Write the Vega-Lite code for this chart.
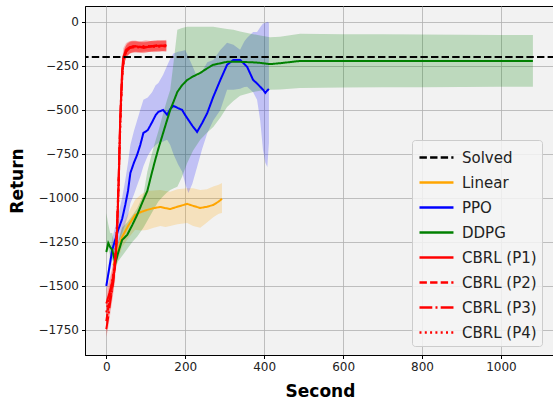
{
  "$schema": "https://vega.github.io/schema/vega-lite/v6.json",
  "width": 470,
  "height": 349,
  "autosize": {"type": "none"},
  "padding": {"left": 85, "top": 6, "right": 0, "bottom": 47},
  "background": "white",
  "config": {
    "font": "DejaVu Sans",
    "view": {"fill": "#f2f2f2", "stroke": "black", "strokeWidth": 1},
    "axis": {
      "labelFont": "DejaVu Sans", "labelFontSize": 12, "labelColor": "#222222",
      "titleFont": "DejaVu Sans", "titleFontSize": 17, "titleFontWeight": "bold", "titleColor": "black",
      "domainColor": "black", "tickColor": "black", "tickSize": 3.5, "labelPadding": 3,
      "gridColor": "#b0b0b0", "gridWidth": 0.8, "gridOpacity": 1
    },
    "legend": {
      "labelFont": "DejaVu Sans", "labelFontSize": 15, "labelColor": "#222222",
      "symbolType": "M-0.91,0H2.18", "symbolSize": 484, "symbolStrokeWidth": 2.5,
      "symbolFillColor": "transparent",
      "fillColor": "rgba(245,245,245,0.85)", "strokeColor": "#cccccc", "cornerRadius": 3,
      "padding": 5, "rowPadding": 4, "labelOffset": 20
    }
  },
  "datasets": {
    "curves": [
      {"series": "Linear", "x": 18, "y": -1381, "lo": -1420, "hi": -1340},
      {"series": "Linear", "x": 30, "y": -1300, "lo": -1350, "hi": -1250},
      {"series": "Linear", "x": 40, "y": -1222, "lo": -1280, "hi": -1160},
      {"series": "Linear", "x": 55, "y": -1160, "lo": -1230, "hi": -1090},
      {"series": "Linear", "x": 73, "y": -1097, "lo": -1180, "hi": -1010},
      {"series": "Linear", "x": 88, "y": -1080, "lo": -1185, "hi": -980},
      {"series": "Linear", "x": 103, "y": -1068, "lo": -1182, "hi": -960},
      {"series": "Linear", "x": 120, "y": -1058, "lo": -1170, "hi": -958},
      {"series": "Linear", "x": 137, "y": -1051, "lo": -1160, "hi": -955},
      {"series": "Linear", "x": 150, "y": -1058, "lo": -1165, "hi": -960},
      {"series": "Linear", "x": 162, "y": -1063, "lo": -1160, "hi": -965},
      {"series": "Linear", "x": 180, "y": -1050, "lo": -1150, "hi": -950},
      {"series": "Linear", "x": 205, "y": -1034, "lo": -1142, "hi": -945},
      {"series": "Linear", "x": 220, "y": -1045, "lo": -1160, "hi": -945},
      {"series": "Linear", "x": 238, "y": -1057, "lo": -1170, "hi": -955},
      {"series": "Linear", "x": 255, "y": -1050, "lo": -1140, "hi": -950},
      {"series": "Linear", "x": 271, "y": -1040, "lo": -1110, "hi": -935},
      {"series": "Linear", "x": 285, "y": -1020, "lo": -1090, "hi": -925},
      {"series": "Linear", "x": 293, "y": -1005, "lo": -1085, "hi": -915},

      {"series": "PPO", "x": 0, "y": -1500, "lo": -1510, "hi": -1480},
      {"series": "PPO", "x": 8, "y": -1392, "lo": -1430, "hi": -1340},
      {"series": "PPO", "x": 15, "y": -1295, "lo": -1350, "hi": -1230},
      {"series": "PPO", "x": 30, "y": -1182, "lo": -1260, "hi": -1100},
      {"series": "PPO", "x": 40, "y": -1120, "lo": -1200, "hi": -1000},
      {"series": "PPO", "x": 48, "y": -1040, "lo": -1150, "hi": -900},
      {"series": "PPO", "x": 55, "y": -960, "lo": -1100, "hi": -800},
      {"series": "PPO", "x": 61, "y": -858, "lo": -1030, "hi": -700},
      {"series": "PPO", "x": 70, "y": -800, "lo": -980, "hi": -620},
      {"series": "PPO", "x": 78, "y": -756, "lo": -930, "hi": -560},
      {"series": "PPO", "x": 86, "y": -700, "lo": -880, "hi": -500},
      {"series": "PPO", "x": 94, "y": -631, "lo": -820, "hi": -443},
      {"series": "PPO", "x": 105, "y": -615, "lo": -760, "hi": -430},
      {"series": "PPO", "x": 116, "y": -570, "lo": -720, "hi": -400},
      {"series": "PPO", "x": 125, "y": -530, "lo": -700, "hi": -360},
      {"series": "PPO", "x": 132, "y": -511, "lo": -688, "hi": -347},
      {"series": "PPO", "x": 144, "y": -500, "lo": -680, "hi": -301},
      {"series": "PPO", "x": 154, "y": -528, "lo": -670, "hi": -250},
      {"series": "PPO", "x": 162, "y": -495, "lo": -700, "hi": -210},
      {"series": "PPO", "x": 170, "y": -477, "lo": -750, "hi": -180},
      {"series": "PPO", "x": 182, "y": -490, "lo": -810, "hi": -170},
      {"series": "PPO", "x": 192, "y": -500, "lo": -850, "hi": -165},
      {"series": "PPO", "x": 200, "y": -530, "lo": -920, "hi": -160},
      {"series": "PPO", "x": 208, "y": -557, "lo": -972, "hi": -200},
      {"series": "PPO", "x": 218, "y": -590, "lo": -920, "hi": -250},
      {"series": "PPO", "x": 230, "y": -625, "lo": -824, "hi": -312},
      {"series": "PPO", "x": 243, "y": -574, "lo": -720, "hi": -280},
      {"series": "PPO", "x": 256, "y": -517, "lo": -631, "hi": -230},
      {"series": "PPO", "x": 271, "y": -426, "lo": -560, "hi": -216},
      {"series": "PPO", "x": 289, "y": -330, "lo": -500, "hi": -160},
      {"series": "PPO", "x": 306, "y": -244, "lo": -386, "hi": -119},
      {"series": "PPO", "x": 322, "y": -216, "lo": -386, "hi": -130},
      {"series": "PPO", "x": 339, "y": -216, "lo": -380, "hi": -159},
      {"series": "PPO", "x": 350, "y": -240, "lo": -370, "hi": -110},
      {"series": "PPO", "x": 357, "y": -256, "lo": -369, "hi": -90},
      {"series": "PPO", "x": 372, "y": -330, "lo": -400, "hi": -57},
      {"series": "PPO", "x": 382, "y": -350, "lo": -443, "hi": -57},
      {"series": "PPO", "x": 390, "y": -369, "lo": -560, "hi": -30},
      {"series": "PPO", "x": 397, "y": -385, "lo": -727, "hi": -10},
      {"series": "PPO", "x": 403, "y": -403, "lo": -800, "hi": -6},
      {"series": "PPO", "x": 408, "y": -390, "lo": -824, "hi": 0},
      {"series": "PPO", "x": 412, "y": -381, "lo": -688, "hi": -5},

      {"series": "DDPG", "x": 0, "y": -1307, "lo": -1320, "hi": -1085},
      {"series": "DDPG", "x": 5, "y": -1256, "lo": -1290, "hi": -1150},
      {"series": "DDPG", "x": 10, "y": -1280, "lo": -1330, "hi": -1200},
      {"series": "DDPG", "x": 15, "y": -1295, "lo": -1350, "hi": -1199},
      {"series": "DDPG", "x": 23, "y": -1369, "lo": -1400, "hi": -1290},
      {"series": "DDPG", "x": 30, "y": -1312, "lo": -1360, "hi": -1250},
      {"series": "DDPG", "x": 40, "y": -1239, "lo": -1330, "hi": -1170},
      {"series": "DDPG", "x": 53, "y": -1210, "lo": -1290, "hi": -1140},
      {"series": "DDPG", "x": 66, "y": -1153, "lo": -1250, "hi": -1100},
      {"series": "DDPG", "x": 78, "y": -1097, "lo": -1220, "hi": -1060},
      {"series": "DDPG", "x": 94, "y": -1011, "lo": -1170, "hi": -980},
      {"series": "DDPG", "x": 104, "y": -960, "lo": -1130, "hi": -850},
      {"series": "DDPG", "x": 114, "y": -870, "lo": -1090, "hi": -760},
      {"series": "DDPG", "x": 124, "y": -784, "lo": -1050, "hi": -680},
      {"series": "DDPG", "x": 132, "y": -720, "lo": -1020, "hi": -620},
      {"series": "DDPG", "x": 144, "y": -631, "lo": -990, "hi": -520},
      {"series": "DDPG", "x": 153, "y": -565, "lo": -970, "hi": -450},
      {"series": "DDPG", "x": 162, "y": -500, "lo": -955, "hi": -386},
      {"series": "DDPG", "x": 171, "y": -450, "lo": -945, "hi": -220},
      {"series": "DDPG", "x": 180, "y": -398, "lo": -937, "hi": -45},
      {"series": "DDPG", "x": 192, "y": -360, "lo": -880, "hi": -35},
      {"series": "DDPG", "x": 205, "y": -330, "lo": -801, "hi": -28},
      {"series": "DDPG", "x": 220, "y": -310, "lo": -730, "hi": -28},
      {"series": "DDPG", "x": 238, "y": -290, "lo": -670, "hi": -28},
      {"series": "DDPG", "x": 255, "y": -265, "lo": -630, "hi": -28},
      {"series": "DDPG", "x": 271, "y": -244, "lo": -597, "hi": -28},
      {"series": "DDPG", "x": 290, "y": -235, "lo": -540, "hi": -35},
      {"series": "DDPG", "x": 306, "y": -227, "lo": -483, "hi": -40},
      {"series": "DDPG", "x": 322, "y": -227, "lo": -450, "hi": -45},
      {"series": "DDPG", "x": 339, "y": -227, "lo": -420, "hi": -55},
      {"series": "DDPG", "x": 372, "y": -230, "lo": -398, "hi": -70},
      {"series": "DDPG", "x": 390, "y": -233, "lo": -392, "hi": -78},
      {"series": "DDPG", "x": 415, "y": -240, "lo": -386, "hi": -88},
      {"series": "DDPG", "x": 440, "y": -235, "lo": -384, "hi": -85},
      {"series": "DDPG", "x": 491, "y": -222, "lo": -375, "hi": -68},
      {"series": "DDPG", "x": 600, "y": -222, "lo": -373, "hi": -70},
      {"series": "DDPG", "x": 700, "y": -222, "lo": -372, "hi": -71},
      {"series": "DDPG", "x": 800, "y": -222, "lo": -371, "hi": -72},
      {"series": "DDPG", "x": 900, "y": -222, "lo": -370, "hi": -73},
      {"series": "DDPG", "x": 1000, "y": -222, "lo": -369, "hi": -74},
      {"series": "DDPG", "x": 1081, "y": -222, "lo": -369, "hi": -74},

      {"series": "CBRL (P1)", "x": 0, "y": -1600, "lo": -1680, "hi": -1520},
      {"series": "CBRL (P1)", "x": 8, "y": -1540, "lo": -1620, "hi": -1460},
      {"series": "CBRL (P1)", "x": 15, "y": -1480, "lo": -1560, "hi": -1400},
      {"series": "CBRL (P1)", "x": 22, "y": -1400, "lo": -1480, "hi": -1320},
      {"series": "CBRL (P1)", "x": 27, "y": -1220, "lo": -1300, "hi": -1140},
      {"series": "CBRL (P1)", "x": 30, "y": -1010, "lo": -1090, "hi": -930},
      {"series": "CBRL (P1)", "x": 33, "y": -790, "lo": -870, "hi": -710},
      {"series": "CBRL (P1)", "x": 35, "y": -560, "lo": -640, "hi": -480},
      {"series": "CBRL (P1)", "x": 38, "y": -390, "lo": -460, "hi": -320},
      {"series": "CBRL (P1)", "x": 40, "y": -275, "lo": -330, "hi": -220},
      {"series": "CBRL (P1)", "x": 43, "y": -200, "lo": -250, "hi": -150},
      {"series": "CBRL (P1)", "x": 50, "y": -160, "lo": -200, "hi": -120},
      {"series": "CBRL (P1)", "x": 58, "y": -145, "lo": -180, "hi": -110},
      {"series": "CBRL (P1)", "x": 70, "y": -138, "lo": -170, "hi": -106},
      {"series": "CBRL (P1)", "x": 85, "y": -142, "lo": -172, "hi": -112},
      {"series": "CBRL (P1)", "x": 104, "y": -143, "lo": -173, "hi": -113},
      {"series": "CBRL (P1)", "x": 120, "y": -138, "lo": -168, "hi": -108},
      {"series": "CBRL (P1)", "x": 135, "y": -135, "lo": -165, "hi": -105},
      {"series": "CBRL (P1)", "x": 152, "y": -136, "lo": -166, "hi": -106},

      {"series": "CBRL (P2)", "x": 0, "y": -1700, "lo": -1770, "hi": -1630},
      {"series": "CBRL (P2)", "x": 5, "y": -1620, "lo": -1690, "hi": -1550},
      {"series": "CBRL (P2)", "x": 12, "y": -1540, "lo": -1610, "hi": -1470},
      {"series": "CBRL (P2)", "x": 20, "y": -1420, "lo": -1490, "hi": -1350},
      {"series": "CBRL (P2)", "x": 26, "y": -1250, "lo": -1320, "hi": -1180},
      {"series": "CBRL (P2)", "x": 29, "y": -1050, "lo": -1120, "hi": -980},
      {"series": "CBRL (P2)", "x": 32, "y": -850, "lo": -920, "hi": -780},
      {"series": "CBRL (P2)", "x": 35, "y": -600, "lo": -670, "hi": -530},
      {"series": "CBRL (P2)", "x": 38, "y": -420, "lo": -480, "hi": -360},
      {"series": "CBRL (P2)", "x": 41, "y": -290, "lo": -340, "hi": -240},
      {"series": "CBRL (P2)", "x": 45, "y": -200, "lo": -240, "hi": -160},
      {"series": "CBRL (P2)", "x": 52, "y": -160, "lo": -195, "hi": -125},
      {"series": "CBRL (P2)", "x": 60, "y": -145, "lo": -178, "hi": -112},
      {"series": "CBRL (P2)", "x": 75, "y": -138, "lo": -168, "hi": -108},
      {"series": "CBRL (P2)", "x": 90, "y": -145, "lo": -175, "hi": -115},
      {"series": "CBRL (P2)", "x": 110, "y": -140, "lo": -170, "hi": -110},
      {"series": "CBRL (P2)", "x": 130, "y": -133, "lo": -163, "hi": -103},
      {"series": "CBRL (P2)", "x": 152, "y": -138, "lo": -168, "hi": -108},

      {"series": "CBRL (P3)", "x": 0, "y": -1745, "lo": -1790, "hi": -1690},
      {"series": "CBRL (P3)", "x": 4, "y": -1690, "lo": -1750, "hi": -1630},
      {"series": "CBRL (P3)", "x": 10, "y": -1590, "lo": -1660, "hi": -1520},
      {"series": "CBRL (P3)", "x": 18, "y": -1470, "lo": -1540, "hi": -1400},
      {"series": "CBRL (P3)", "x": 24, "y": -1300, "lo": -1370, "hi": -1230},
      {"series": "CBRL (P3)", "x": 28, "y": -1100, "lo": -1170, "hi": -1030},
      {"series": "CBRL (P3)", "x": 31, "y": -900, "lo": -970, "hi": -830},
      {"series": "CBRL (P3)", "x": 34, "y": -650, "lo": -720, "hi": -580},
      {"series": "CBRL (P3)", "x": 37, "y": -450, "lo": -510, "hi": -390},
      {"series": "CBRL (P3)", "x": 40, "y": -300, "lo": -350, "hi": -250},
      {"series": "CBRL (P3)", "x": 44, "y": -210, "lo": -250, "hi": -170},
      {"series": "CBRL (P3)", "x": 50, "y": -170, "lo": -205, "hi": -135},
      {"series": "CBRL (P3)", "x": 60, "y": -148, "lo": -180, "hi": -116},
      {"series": "CBRL (P3)", "x": 75, "y": -142, "lo": -172, "hi": -112},
      {"series": "CBRL (P3)", "x": 95, "y": -148, "lo": -178, "hi": -118},
      {"series": "CBRL (P3)", "x": 115, "y": -137, "lo": -167, "hi": -107},
      {"series": "CBRL (P3)", "x": 135, "y": -140, "lo": -170, "hi": -110},
      {"series": "CBRL (P3)", "x": 152, "y": -132, "lo": -162, "hi": -102},

      {"series": "CBRL (P4)", "x": 0, "y": -1650, "lo": -1720, "hi": -1580},
      {"series": "CBRL (P4)", "x": 6, "y": -1580, "lo": -1650, "hi": -1510},
      {"series": "CBRL (P4)", "x": 13, "y": -1500, "lo": -1570, "hi": -1430},
      {"series": "CBRL (P4)", "x": 21, "y": -1390, "lo": -1460, "hi": -1320},
      {"series": "CBRL (P4)", "x": 26, "y": -1220, "lo": -1290, "hi": -1150},
      {"series": "CBRL (P4)", "x": 30, "y": -1030, "lo": -1100, "hi": -960},
      {"series": "CBRL (P4)", "x": 33, "y": -780, "lo": -850, "hi": -710},
      {"series": "CBRL (P4)", "x": 36, "y": -560, "lo": -630, "hi": -490},
      {"series": "CBRL (P4)", "x": 39, "y": -380, "lo": -440, "hi": -320},
      {"series": "CBRL (P4)", "x": 42, "y": -260, "lo": -310, "hi": -210},
      {"series": "CBRL (P4)", "x": 46, "y": -190, "lo": -230, "hi": -150},
      {"series": "CBRL (P4)", "x": 54, "y": -155, "lo": -190, "hi": -120},
      {"series": "CBRL (P4)", "x": 65, "y": -140, "lo": -172, "hi": -108},
      {"series": "CBRL (P4)", "x": 80, "y": -145, "lo": -175, "hi": -115},
      {"series": "CBRL (P4)", "x": 100, "y": -135, "lo": -165, "hi": -105},
      {"series": "CBRL (P4)", "x": 120, "y": -142, "lo": -172, "hi": -112},
      {"series": "CBRL (P4)", "x": 140, "y": -138, "lo": -168, "hi": -108},
      {"series": "CBRL (P4)", "x": 152, "y": -140, "lo": -170, "hi": -110}
    ],
    "solved": [{"series": "Solved", "y": -200}]
  },
  "layer": [
    {
      "data": {"name": "curves"},
      "mark": {"type": "area", "fillOpacity": 0.22, "clip": true},
      "encoding": {
        "x": {"field": "x", "type": "quantitative"},
        "y": {"field": "lo", "type": "quantitative"},
        "y2": {"field": "hi"},
        "fill": {
          "field": "series", "type": "nominal", "legend": null,
          "scale": {
            "domain": ["Linear", "PPO", "DDPG", "CBRL (P1)", "CBRL (P2)", "CBRL (P3)", "CBRL (P4)"],
            "range": ["#ffa500", "#1010ff", "#008000", "#ff0000", "#ff0000", "#ff0000", "#ff0000"]
          }
        }
      }
    },
    {
      "data": {"name": "curves"},
      "mark": {"type": "line", "strokeWidth": 2, "clip": true},
      "encoding": {
        "x": {
          "field": "x", "type": "quantitative", "title": "Second",
          "scale": {"domain": [-54, 1137], "nice": false, "zero": false},
          "axis": {"values": [0, 200, 400, 600, 800, 1000], "titlePadding": 11, "format": "d"}
        },
        "y": {
          "field": "y", "type": "quantitative", "title": "Return",
          "scale": {"domain": [-1892, 90], "nice": false, "zero": false},
          "axis": {"values": [0, -250, -500, -750, -1000, -1250, -1500, -1750], "titlePadding": 11, "format": "d"}
        },
        "color": {
          "field": "series", "type": "nominal", "title": null,
          "scale": {
            "domain": ["Solved", "Linear", "PPO", "DDPG", "CBRL (P1)", "CBRL (P2)", "CBRL (P3)", "CBRL (P4)"],
            "range": ["#000000", "#ffa500", "#0000ff", "#008000", "#ff0000", "#ff0000", "#ff0000", "#ff0000"]
          },
          "legend": {"orient": "none", "legendX": 327, "legendY": 134}
        },
        "strokeDash": {
          "field": "series", "type": "nominal", "title": null,
          "scale": {
            "domain": ["Solved", "Linear", "PPO", "DDPG", "CBRL (P1)", "CBRL (P2)", "CBRL (P3)", "CBRL (P4)"],
            "range": [[7.4, 3.2], [1, 0], [1, 0], [1, 0], [1, 0], [7.4, 3.2], [12.8, 3.2, 2, 3.2], [2, 3.3]]
          },
          "legend": {"orient": "none", "legendX": 327, "legendY": 134}
        }
      }
    },
    {
      "data": {"name": "solved"},
      "mark": {"type": "rule", "strokeWidth": 2},
      "encoding": {
        "y": {"field": "y", "type": "quantitative"},
        "color": {"field": "series", "type": "nominal"},
        "strokeDash": {"field": "series", "type": "nominal"}
      }
    }
  ]
}
